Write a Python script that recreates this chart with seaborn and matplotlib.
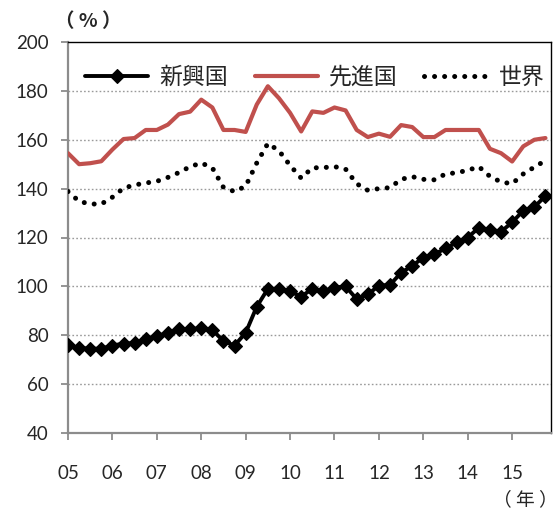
import matplotlib
matplotlib.use("Agg")
import matplotlib.pyplot as plt
import numpy as np
import pandas as pd
import seaborn as sb

# quarterly series, 2005Q1 .. 2015Q4 (%)
YEAR_LABELS = ["05", "06", "07", "08", "09", "10", "11", "12", "13", "14", "15"]
SERIES_NAMES = ["新興国", "先進国", "世界"]

emerging = [76, 74.8, 74.5, 74.5, 75.8, 76.6, 76.8, 78.3, 79.6, 81,
            82.4, 82.4, 83, 82.2, 77.6, 75.8, 81, 91.7, 99, 99,
            98, 95.8, 99, 98.1, 99.5, 100, 94.8, 96.7, 100.3, 100.6,
            105.6, 108.4, 111.8, 113.2, 115.5, 118, 120, 124, 123.2, 122.4,
            126.2, 131, 132.5, 137]
advanced = [154.5, 150, 150.4, 151.2, 156, 160.3, 160.7, 164, 164, 166.2,
            170.5, 171.5, 176.4, 173.2, 164, 164, 163.2, 174.4, 181.9, 177,
            171, 163.4, 171.6, 171, 173.2, 172, 164, 161.1, 162.5, 161.2,
            166, 165.2, 161.1, 161.1, 164, 164, 164, 164, 156.3, 154.5,
            151.1, 157.3, 160, 160.7]
world = [138.8, 134.8, 133.7, 133.7, 136.5, 140.2, 141.5, 142.3, 143, 144.6,
         146.6, 149, 150.5, 148.5, 140.5, 138.8, 141, 150.5, 158.5, 155.5,
         149.5, 144.3, 148.5, 148.6, 149, 148, 142, 139.3, 140, 140.4,
         143.8, 144.9, 143.8, 143.6, 146, 146.5, 147.5, 149, 145, 142.7,
         142, 146, 148.8, 151.5]

JP = ["Noto Sans CJK JP", "DejaVu Sans"]
NUM = ["Lato", "Noto Sans CJK JP", "DejaVu Sans"]

sb.set_style("white")
plt.rcParams["font.family"] = NUM

df = pd.DataFrame({"q": np.arange(len(emerging)),
                   "新興国": emerging, "先進国": advanced, "世界": world})

fig = plt.figure(figsize=(5.56, 5.16), dpi=100)
ax = fig.add_axes([68 / 556, 1 - 433 / 516, 483 / 556, 391 / 516])

sb.lineplot(data=df, x="q", y="新興国", ax=ax, color="black", linewidth=2.8,
            marker="D", markersize=7.5, markeredgewidth=0.8, markeredgecolor="black",
            label="新興国", zorder=5)
sb.lineplot(data=df, x="q", y="先進国", ax=ax, color="#C0504D", linewidth=3.0,
            label="先進国", zorder=4)
sb.lineplot(data=df, x="q", y="世界", ax=ax, color="black", linewidth=3.6,
            linestyle=(0, (0.01, 2.0)), dash_capstyle="round",
            label="世界", zorder=4)

ax.set_xlim(0, 43.5)
ax.set_ylim(40, 200)
ax.set_xticks(np.arange(0, 44, 4))
ax.set_xticklabels(YEAR_LABELS)
ax.set_yticks(np.arange(40, 201, 20))
ax.set_xlabel("")
ax.set_ylabel("")

for v in range(60, 200, 20):
    ax.axhline(v, color="#9a9a9a", linewidth=1.0, linestyle=(0, (1.2, 1.6)), zorder=1)

for s in ["left", "bottom"]:
    ax.spines[s].set_color("#8c8c8c")
    ax.spines[s].set_linewidth(1.6)
for s in ["top", "right"]:
    ax.spines[s].set_color("black")
    ax.spines[s].set_linewidth(1.0)

ax.tick_params(axis="y", direction="out", length=5, width=1.3, color="#8c8c8c",
               pad=9, labelsize=13.5, left=True)
ax.tick_params(axis="x", direction="out", length=5, width=1.3, color="#8c8c8c",
               pad=18, labelsize=13.5, bottom=True)

leg = ax.legend(loc="upper center", bbox_to_anchor=(0.511, 0.975), ncol=3, frameon=False,
                prop={"family": JP, "size": 16.5}, handlelength=2.75,
                handletextpad=0.5, columnspacing=1.15, borderaxespad=0.2)

fig.text(88 / 556, 1 - 22 / 516, "（ % ）", family=JP, fontsize=14, fontweight="bold",
         ha="center", va="center")
fig.text(525 / 556, 1 - 500 / 516, "（ 年 ）", family=JP, fontsize=13.5,
         ha="center", va="center")

fig.savefig("out.png", dpi=100)
